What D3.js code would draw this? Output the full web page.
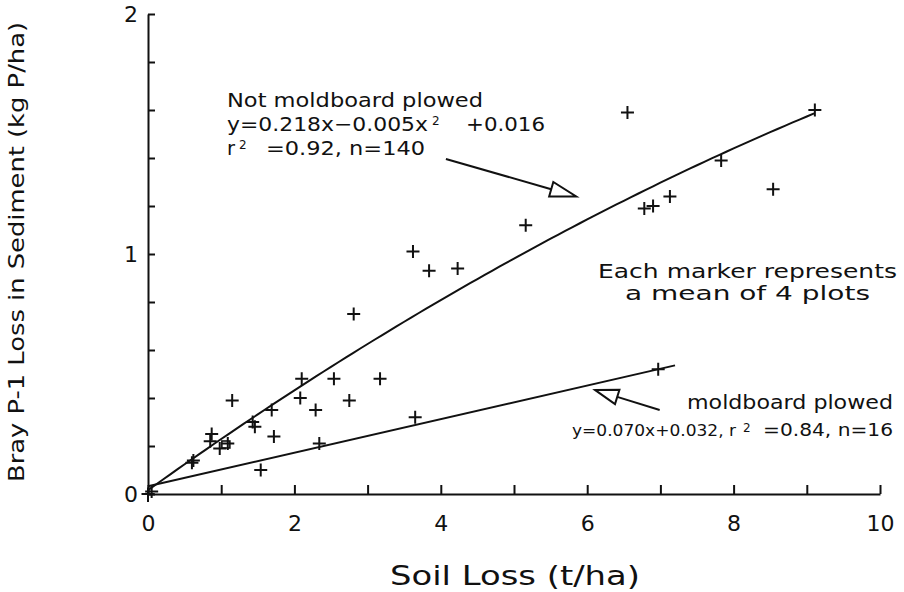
<!DOCTYPE html>
<html>
<head>
<meta charset="utf-8">
<script src="https://cdn.jsdelivr.net/npm/d3@7"></script>
<style>
  body { margin: 0; background: #fff; }
  text { font-family: "DejaVu Sans", sans-serif; fill: #111; }
</style>
</head>
<body>
<div id="chart"></div>
<script>
// data
const soilLoss = [0.00, 0.05, 0.60, 0.62, 0.85, 0.87, 0.98, 1.09, 1.15, 1.43, 1.46, 1.54, 1.69, 1.72,
                  2.08, 2.10, 2.29, 2.34, 2.54, 2.75, 2.81, 3.17, 3.62, 3.65, 3.84, 4.23, 5.16,
                  6.55, 6.78, 6.90, 7.13, 7.83, 8.54, 9.11, 6.97];
const brayLoss = [0.00, 0.01, 0.13, 0.14, 0.22, 0.25, 0.19, 0.21, 0.39, 0.30, 0.28, 0.10, 0.35, 0.24,
                  0.40, 0.48, 0.35, 0.21, 0.48, 0.39, 0.75, 0.48, 1.01, 0.32, 0.93, 0.94, 1.12,
                  1.59, 1.19, 1.20, 1.24, 1.39, 1.27, 1.60, 0.52];
const squareX = [1.05];
const squareY = [0.20];

// fitted equations printed on the chart
const notPlowedFit = [0.016, 0.218, -0.005]; // c, b, a  (y = c + b x + a x^2)
const notPlowedMaxX = 9.1;
const plowedFit = [0.032, 0.070];
const plowedMaxX = 7.2;

const xTicks = [0, 1, 2, 3, 4, 5, 6, 7, 8, 9, 10];
const yTicks = [0, 0.2, 0.4, 0.6, 0.8, 1, 1.2, 1.4, 1.6, 1.8, 2];

const dimensions = {
  width: 904,
  height: 592,
  margin: { top: 14, right: 24, bottom: 98, left: 148 }
};
dimensions.boundedWidth = dimensions.width - dimensions.margin.left - dimensions.margin.right;
dimensions.boundedHeight = dimensions.height - dimensions.margin.top - dimensions.margin.bottom;

const chart = d3.select("#chart")
  .append("svg")
  .attr("width", dimensions.width)
  .attr("height", dimensions.height);

const x = d3.scaleLinear().domain([0, 10]).range([dimensions.margin.left, dimensions.margin.left + dimensions.boundedWidth]);
const y = d3.scaleLinear().domain([0, 2]).range([dimensions.margin.top + dimensions.boundedHeight, dimensions.margin.top]);

// axes
const xAxis = d3.axisBottom(x)
  .tickValues(xTicks)
  .tickSizeInner(-9)
  .tickSizeOuter(0)
  .tickPadding(21)
  .tickFormat(d => d % 2 === 0 ? d : "");

const yAxis = d3.axisLeft(y)
  .tickValues(yTicks)
  .tickSizeInner(-7)
  .tickSizeOuter(0)
  .tickPadding(10)
  .tickFormat(d => (d === 0 || d === 1 || d === 2) ? d : "");

const gx = chart.append("g")
  .attr("transform", `translate(0, ${y(0)})`)
  .call(xAxis);
const gy = chart.append("g")
  .attr("transform", `translate(${x(0)}, 0)`)
  .call(yAxis);

[gx, gy].forEach(g => {
  g.select(".domain").attr("stroke", "#111").attr("stroke-width", 2);
  g.selectAll(".tick line").attr("stroke", "#111").attr("stroke-width", 2);
  g.selectAll(".tick text")
    .style("font-family", "'DejaVu Sans', sans-serif")
    .style("font-size", "22px")
    .attr("fill", "#111");
});

// little overshoot where the two axes cross, as drawn on the plotter
chart.append("line")
  .attr("x1", x(0)).attr("x2", x(0))
  .attr("y1", y(0)).attr("y2", y(0) + 8)
  .attr("stroke", "#111").attr("stroke-width", 2);
chart.append("line")
  .attr("x1", x(0) - 5).attr("x2", x(0))
  .attr("y1", y(0)).attr("y2", y(0))
  .attr("stroke", "#111").attr("stroke-width", 2);

// axis titles
chart.append("text")
  .attr("x", 515)
  .attr("y", 585)
  .attr("text-anchor", "middle")
  .attr("textLength", 250)
  .attr("lengthAdjust", "spacingAndGlyphs")
  .style("font-size", "27px")
  .text("Soil Loss (t/ha)");

chart.append("text")
  .attr("transform", "translate(24, 252) rotate(-90)")
  .attr("text-anchor", "middle")
  .attr("textLength", 460)
  .attr("lengthAdjust", "spacingAndGlyphs")
  .style("font-size", "21px")
  .text("Bray P-1 Loss in Sediment (kg P/ha)");

// fitted lines
const line = d3.line().x(d => x(d[0])).y(d => y(d[1]));

const upperPts = d3.range(0, notPlowedMaxX + 0.001, 0.1)
  .map(v => [v, notPlowedFit[0] + notPlowedFit[1] * v + notPlowedFit[2] * v * v]);
chart.append("path")
  .attr("d", line(upperPts))
  .attr("fill", "none")
  .attr("stroke", "#111")
  .attr("stroke-width", 2);

const lowerPts = [0, plowedMaxX].map(v => [v, plowedFit[0] + plowedFit[1] * v]);
chart.append("path")
  .attr("d", line(lowerPts))
  .attr("fill", "none")
  .attr("stroke", "#111")
  .attr("stroke-width", 2);

// markers
const points = soilLoss.map((v, i) => ({ sx: v, by: brayLoss[i] }));
const crossSize = 6.5;
chart.append("g")
  .selectAll("path.marker")
  .data(points)
  .join("path")
  .attr("class", "marker")
  .attr("d", d => {
    const cx = x(d.sx), cy = y(d.by);
    return `M${cx - crossSize},${cy}H${cx + crossSize}M${cx},${cy - crossSize}V${cy + crossSize}`;
  })
  .attr("stroke", "#111")
  .attr("stroke-width", 2)
  .attr("fill", "none");

chart.append("g")
  .selectAll("rect")
  .data(squareX.map((v, i) => ({ sx: v, by: squareY[i] })))
  .join("rect")
  .attr("x", d => x(d.sx) - 3)
  .attr("y", d => y(d.by) - 5)
  .attr("width", 8)
  .attr("height", 7)
  .attr("fill", "none")
  .attr("stroke", "#111")
  .attr("stroke-width", 1.6);

// arrows (start and tip in data units)
function arrow(from, to, headLen, headHalf) {
  const x0 = x(from[0]), y0 = y(from[1]);
  const x1 = x(to[0]), y1 = y(to[1]);
  const len = Math.hypot(x1 - x0, y1 - y0);
  const ux = (x1 - x0) / len, uy = (y1 - y0) / len;
  const bx = x1 - ux * headLen, by = y1 - uy * headLen;
  const px = -uy, py = ux;
  chart.append("line")
    .attr("x1", x0).attr("y1", y0)
    .attr("x2", bx).attr("y2", by)
    .attr("stroke", "#111").attr("stroke-width", 2);
  chart.append("path")
    .attr("d", `M${x1},${y1}L${bx + px * headHalf},${by + py * headHalf}L${bx - px * headHalf},${by - py * headHalf}Z`)
    .attr("fill", "#fff")
    .attr("stroke", "#111")
    .attr("stroke-width", 2);
}
arrow([4.07, 1.396], [5.85, 1.24], 26, 7.5);
arrow([6.99, 0.35], [6.11, 0.433], 23, 7.5);

// annotation text
function label(txt, px, py, size, len, anchor) {
  chart.append("text")
    .attr("x", px)
    .attr("y", py)
    .attr("text-anchor", anchor || "start")
    .attr("textLength", len)
    .attr("lengthAdjust", "spacingAndGlyphs")
    .style("font-size", size + "px")
    .text(txt);
}
function sup(txt, px, py) {
  chart.append("text")
    .attr("x", px)
    .attr("y", py)
    .style("font-size", "12px")
    .text(txt);
}

label("Not moldboard plowed", 227, 107, 20, 256);
label("y=0.218x\u22120.005x", 227, 131, 20, 201);
sup("2", 432, 125);
label("+0.016", 466, 131, 20, 79);
label("r", 227, 155, 20, 8);
sup("2", 239, 149);
label("=0.92, n=140", 266, 155, 20, 159);

label("moldboard plowed", 687, 409, 19, 206);
label("y=0.070x+0.032, r", 572, 436, 16.5, 164);
sup("2", 743, 432);
label("=0.84, n=16", 763, 436, 17, 130);

label("Each marker represents", 598, 278, 19, 299);
label("a mean of 4 plots", 625, 300, 19, 245);
</script>
</body>
</html>
